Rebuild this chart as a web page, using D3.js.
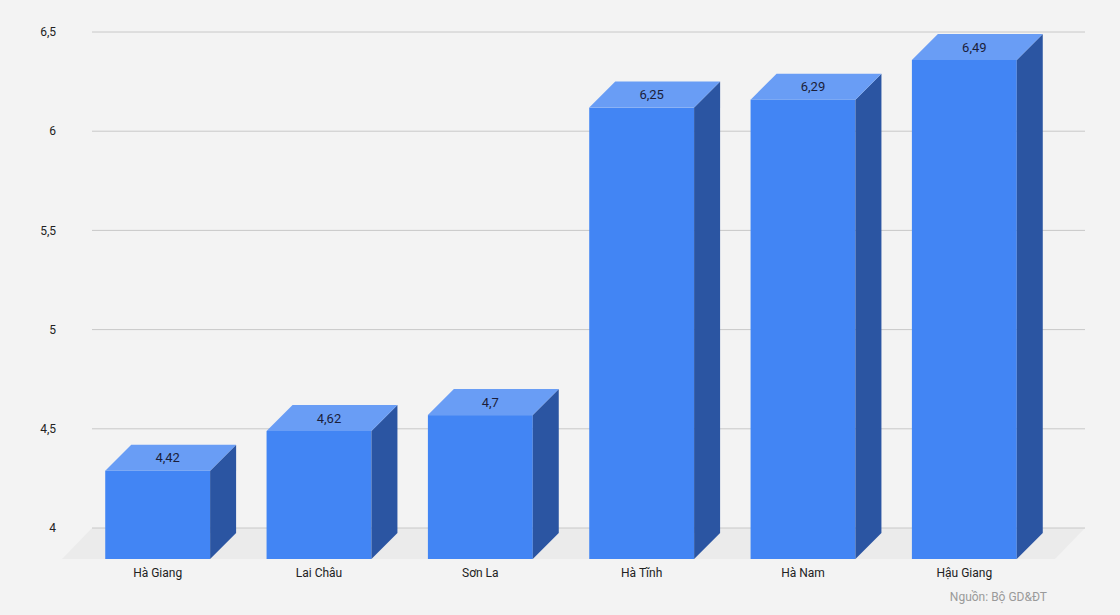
<!DOCTYPE html>
<html>
<head>
<meta charset="utf-8">
<script src="https://cdn.jsdelivr.net/npm/d3@7"></script>
<style>
  html, body { margin: 0; padding: 0; background: #f3f3f3; }
  text { font-family: Roboto, "Noto Sans", sans-serif; }
</style>
</head>
<body>
<div id="chart"></div>
<script>
var provinces = ["Hà Giang", "Lai Châu", "Sơn La", "Hà Tĩnh", "Hà Nam", "Hậu Giang"];
var scores = [4.42, 4.62, 4.7, 6.25, 6.29, 6.49];
var yTicks = [4, 4.5, 5, 5.5, 6, 6.5];

var width = 1120, height = 615;
var svg = d3.select("#chart").append("svg")
    .attr("width", width)
    .attr("height", height);

svg.append("rect").attr("width", width).attr("height", height).attr("fill", "#f3f3f3");

// depth of the fake 3d
var dx = 26, dy = 26;   // bar depth
var fx = 30, fy = 31;   // floor depth

var x = d3.scaleBand()
    .domain(provinces)
    .range([77, 1045])
    .paddingInner(0.35)
    .paddingOuter(0.175);

// y is on the back wall
var y = d3.scaleLinear().domain([4, 6.5]).range([528, 32]);

var fmt = function(v) { return String(v).replace(".", ","); };

// floor
svg.append("path")
    .attr("d", "M" + (92 - fx) + "," + (528 + fy) + " L92,528 L1085,528 L" + (1085 - fx) + "," + (528 + fy) + " Z")
    .attr("fill", "#ebebeb");

// gridlines
svg.append("g")
  .selectAll("line")
  .data(yTicks)
  .enter().append("line")
    .attr("x1", 92).attr("x2", 1085)
    .attr("y1", function(d) { return y(d); })
    .attr("y2", function(d) { return y(d); })
    .attr("stroke", "#c8c8c8")
    .attr("stroke-width", 1);

// y labels
svg.append("g")
  .selectAll("text")
  .data(yTicks)
  .enter().append("text")
    .attr("x", 56)
    .attr("y", function(d) { return y(d); })
    .attr("dy", "0.35em")
    .attr("text-anchor", "end")
    .attr("fill", "#222")
    .style("font-size", "12px")
    .text(fmt);

var data = provinces.map(function(p, i) { return {name: p, value: scores[i]}; });
var bottom = 528 + fy;
var bar = svg.selectAll(".bar")
  .data(data)
  .enter().append("g")
    .attr("class", "bar");

// front face
bar.append("rect")
    .attr("x", function(d) { return x(d.name); })
    .attr("y", function(d) { return y(d.value) + dy; })
    .attr("width", x.bandwidth())
    .attr("height", function(d) { return bottom - (y(d.value) + dy); })
    .attr("fill", "#4285f4");

// side face
bar.append("path")
    .attr("d", function(d) {
      var x1 = x(d.name) + x.bandwidth(), t = y(d.value) + dy;
      return "M" + x1 + "," + t + " L" + (x1 + dx) + "," + (t - dy) +
        " L" + (x1 + dx) + "," + (bottom - dy) + " L" + x1 + "," + bottom + " Z";
    })
    .attr("fill", "#2b55a2");

// top face
bar.append("path")
    .attr("d", function(d) {
      var x0 = x(d.name), x1 = x0 + x.bandwidth(), t = y(d.value) + dy;
      return "M" + x0 + "," + t + " L" + (x0 + dx) + "," + (t - dy) +
        " L" + (x1 + dx) + "," + (t - dy) + " L" + x1 + "," + t + " Z";
    })
    .attr("fill", "#699df5");

// value labels
bar.append("text")
    .attr("x", function(d) { return x(d.name) + x.bandwidth() / 2 + 10; })
    .attr("y", function(d) { return y(d.value) + dy / 2; })
    .attr("dy", "0.35em")
    .attr("text-anchor", "middle")
    .attr("fill", "#1b1e3a")
    .style("font-size", "13px")
    .text(function(d) { return fmt(d.value); });

// category labels
svg.append("g")
  .selectAll("text")
  .data(provinces)
  .enter().append("text")
    .attr("x", function(d) { return x(d) + x.bandwidth() / 2; })
    .attr("y", 573)
    .attr("dy", "0.35em")
    .attr("text-anchor", "middle")
    .attr("fill", "#222")
    .style("font-size", "12px")
    .text(function(d) { return d; });

svg.append("text")
    .attr("x", 1047)
    .attr("y", 597)
    .attr("dy", "0.35em")
    .attr("text-anchor", "end")
    .attr("fill", "#9a9a9a")
    .style("font-size", "12px")
    .text("Nguồn: Bộ GD&ĐT");
</script>
</body>
</html>
